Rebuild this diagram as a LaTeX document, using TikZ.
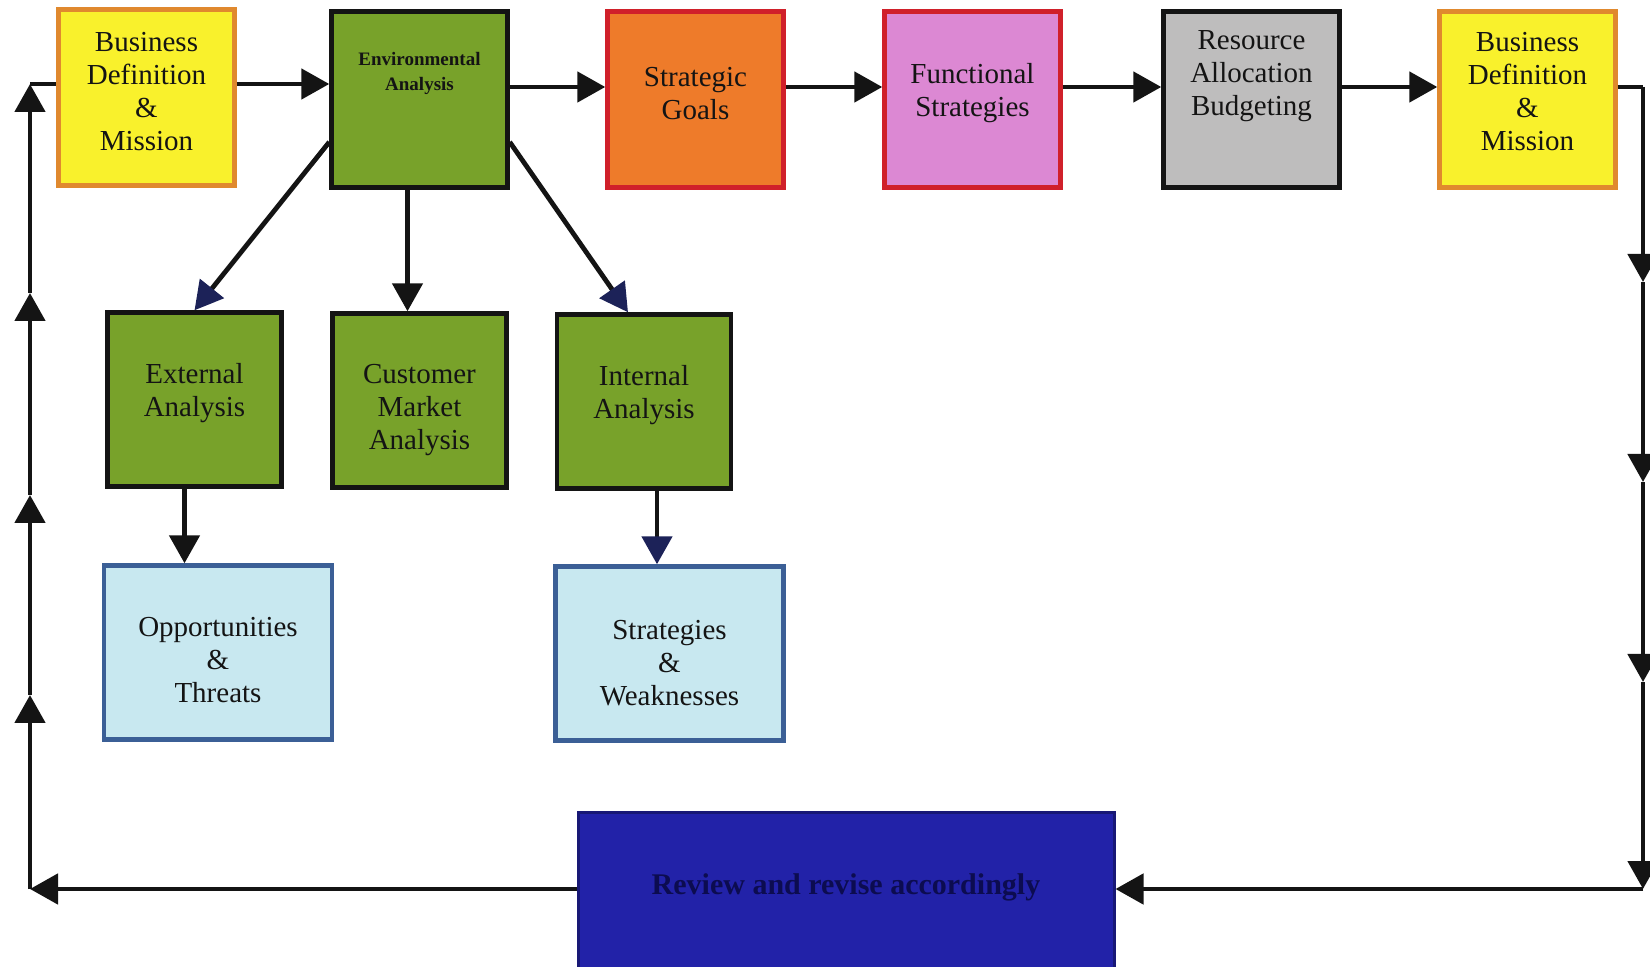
\documentclass[tikz,border=0pt]{standalone}
\usepackage{fontspec}
\setmainfont{Liberation Serif}
\usetikzlibrary{arrows.meta,calc}
\definecolor{yel}{HTML}{F9F12C}
\definecolor{yelb}{HTML}{E0892E}
\definecolor{grn}{HTML}{78A22A}
\definecolor{org}{HTML}{EE7B2A}
\definecolor{redb}{HTML}{D0202A}
\definecolor{pnk}{HTML}{DC88D3}
\definecolor{gry}{HTML}{BEBDBD}
\definecolor{lbl}{HTML}{C8E8F0}
\definecolor{lblb}{HTML}{3B5F96}
\definecolor{blu}{HTML}{2222A8}
\definecolor{navy}{HTML}{1C2258}
\definecolor{ink}{HTML}{141414}
\definecolor{revink}{HTML}{0C0C50}
\begin{document}
\begin{tikzpicture}[x=0.5pt,y=-0.5pt,
  box/.style={draw, line width=2.2pt, inner sep=0pt},
  topbox/.style={box, minimum width=88pt, minimum height=88pt},
  midbox/.style={box, minimum width=87pt, minimum height=87pt},
  widebox/.style={box, minimum width=114pt, minimum height=87pt},
  yelbox/.style={topbox, fill=yel, draw=yelb},
  grnbox/.style={fill=grn, draw=ink},
  lblbox/.style={widebox, fill=lbl, draw=lblb},
  txt/.style={align=center, font=\fontsize{14.5}{16.5}\selectfont, text=ink, inner sep=0pt},
  conn/.style={line width=2.4pt, draw=ink},
  arr/.style={conn, -{Triangle[length=14pt,width=15pt]}},
  narr/.style={conn, -{Triangle[length=14pt,width=15pt,fill=navy,color=navy]}}
]
\fill[white] (0,0) rectangle (1650,967);
\useasboundingbox (0,0) rectangle (1650,967);

% top row
\node[yelbox, label={[txt,yshift=3pt]center:{Business\\Definition\\\&\\Mission}}] (bd1) at (146.5,97.5) {};
\node[topbox, grnbox, label={[txt,yshift=13pt,font=\bfseries\fontsize{9.5}{12.5}\selectfont]center:{Environmental\\Analysis}}] (env) at (419.5,99.5) {};
\node[topbox, fill=org, draw=redb, label={[txt,yshift=3pt]center:{Strategic\\Goals}}] (sg) at (695.5,99.5) {};
\node[topbox, fill=pnk, draw=redb, label={[txt,yshift=3pt]center:{Functional\\Strategies}}] (fs) at (972.5,99.5) {};
\node[topbox, fill=gry, draw=ink, label={[txt,yshift=11.75pt]center:{Resource\\Allocation\\Budgeting}}] (ra) at (1251.5,99.5) {};
\node[yelbox, label={[txt,yshift=3.75pt]center:{Business\\Definition\\\&\\Mission}}] (bd2) at (1527.5,99.5) {};

% second row
\node[midbox, grnbox, label={[txt,yshift=3pt]center:{External\\Analysis}}] (ext) at (194.5,399.5) {};
\node[midbox, grnbox, label={[txt,yshift=-5pt]center:{Customer\\Market\\Analysis}}] (cust) at (419.5,400.5) {};
\node[midbox, grnbox, label={[txt,yshift=3pt]center:{Internal\\Analysis}}] (int) at (644,401.5) {};

% third row
\node[lblbox, label={[txt,yshift=-4pt]center:{Opportunities\\\&\\Threats}}] (ot) at (218,652.5) {};
\node[lblbox, label={[txt,yshift=-5pt]center:{Strategies\\\&\\Weaknesses}}] (sw) at (669.5,653.5) {};

% bottom box
\node[box, line width=1.5pt, fill=blu, draw=blu!70!black, minimum width=268pt, minimum height=89pt,
  label={[txt,yshift=7pt,text=revink,font=\bfseries\fontsize{15}{18}\selectfont]center:{Review and revise accordingly}}] (rev) at (846,901) {};

% loop coordinates
\coordinate (tl) at (30,84);
\coordinate (bl) at (30,889);
\coordinate (l1) at (30,695);
\coordinate (l2) at (30,495);
\coordinate (l3) at (30,293);
\coordinate (ty) at (0,87);
\coordinate (tr) at (1643,87);
\coordinate (r1) at (1643,282);
\coordinate (r2) at (1643,482);
\coordinate (r3) at (1643,682);
\coordinate (br) at (1643,889);

% top row connectors
\draw[conn] (tl) -- (tl -| bd1.west);
\draw[arr] (tl -| bd1.east) -- (tl -| env.west);
\draw[arr] (ty -| env.east) -- (ty -| sg.west);
\draw[arr] (ty -| sg.east) -- (ty -| fs.west);
\draw[arr] (ty -| fs.east) -- (ty -| ra.west);
\draw[arr] (ty -| ra.east) -- (ty -| bd2.west);
\draw[conn] (ty -| bd2.east) -- (tr);

% right side down
\draw[arr] (tr) -- (r1);
\draw[arr] (r1) -- (r2);
\draw[arr] (r2) -- (r3);
\draw[arr] (r3) -- (br);
\draw[arr] (br) -- (br -| rev.east);

% left side up
\draw[arr] (bl -| rev.west) -- (bl);
\draw[arr] (bl) -- (l1);
\draw[arr] (l1) -- (l2);
\draw[arr] (l2) -- (l3);
\draw[arr] (l3) -- (tl);

% analysis connectors
\coordinate (ew) at ([yshift=-21.25pt]env.west);
\coordinate (ee) at ([yshift=-21.25pt]env.east);
\coordinate (es) at ([xshift=-6pt]env.south);
\coordinate (xs) at ([xshift=-5pt]ext.south);
\coordinate (isx) at ([xshift=6.5pt]int.south);
\draw[narr] (ew) -- (ext.north);
\draw[arr] (es) -- (es |- cust.north);
\draw[narr] (ee) -- ([xshift=-8pt]int.north);
\draw[arr] (xs) -- (xs |- ot.north);
\draw[narr] (isx) -- (isx |- sw.north);
\end{tikzpicture}
\end{document}
